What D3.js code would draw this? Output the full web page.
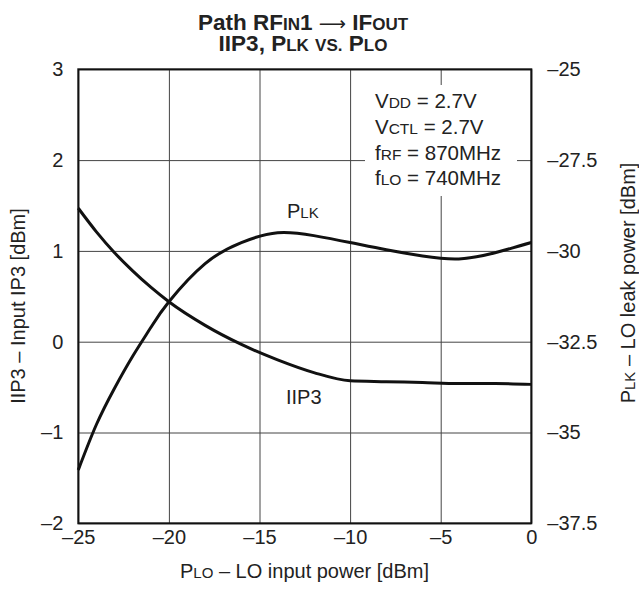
<!DOCTYPE html>
<html>
<head>
<meta charset="utf-8">
<script src="https://cdn.jsdelivr.net/npm/d3@7"></script>
<style>
  html, body { margin: 0; padding: 0; background: #fff; }
  svg { display: block; font-family: "Liberation Sans", Arial, sans-serif; }
</style>
</head>
<body>
<div id="chart"></div>
<script>
// ── Data ──────────────────────────────────────────────────────────────────
const ploValues = [-25, -24, -23, -22, -21, -20, -18, -16, -14, -12, -10, -8, -6, -4, -2, 0];
const iip3Values = [1.47, 1.21, 0.98, 0.78, 0.6, 0.44, 0.18, -0.03, -0.2, -0.34, -0.43, -0.44, -0.45, -0.46, -0.46, -0.47];
const plkValues = [-36.03, -34.78, -33.78, -32.9, -32.11, -31.4, -30.35, -29.77, -29.5, -29.58, -29.77, -29.97, -30.14, -30.22, -30.05, -29.77];

const xTicks = [-25, -20, -15, -10, -5, 0];
const leftTicks = [3, 2, 1, 0, -1, -2];
const rightTicks = [-25, -27.5, -30, -32.5, -35, -37.5];

// conditions box, each line split into [normal, small caps] runs
const conditionLines = [
  [['V', 0], ['DD', 1], [' = 2.7V', 0]],
  [['V', 0], ['CTL', 1], [' = 2.7V', 0]],
  [['f', 0], ['RF', 1], [' = 870MHz', 0]],
  [['f', 0], ['LO', 1], [' = 740MHz', 0]]
];

// ── Layout ─────────────────────────────────────────────────────────────────
const width = 639, height = 589;
const margin = { top: 69.3, left: 78.3 };
const W = 453, H = 454;
const FS = 20, SC = 15;   // normal / small-caps font sizes
const fmt = v => String(v).replace('-', '\u2013');

const svg = d3.select('#chart').append('svg')
  .attr('width', width).attr('height', height);

const g = svg.append('g').attr('transform', `translate(${margin.left},${margin.top})`);

const x = d3.scaleLinear().domain([-25, 0]).range([0, W]);
const yL = d3.scaleLinear().domain([-2, 3]).range([H, 0]);
const yR = d3.scaleLinear().domain([-37.5, -25]).range([H, 0]);

// helper: text made of normal + small-caps runs
function richText(sel, runs, fs = FS, sc = SC) {
  runs.forEach(([t, small]) => {
    sel.append('tspan').attr('font-size', small ? sc : fs).text(t);
  });
  return sel;
}

// Grid
g.append('g').attr('class', 'grid')
  .call(d3.axisLeft(yL).tickValues(leftTicks).tickSize(-W).tickFormat(''))
  .call(s => s.select('.domain').remove())
  .selectAll('line').attr('stroke', '#444').attr('stroke-width', 1);
g.append('g').attr('class', 'grid').attr('transform', `translate(0,${H})`)
  .call(d3.axisBottom(x).tickValues(xTicks).tickSize(-H).tickFormat(''))
  .call(s => s.select('.domain').remove())
  .selectAll('line').attr('stroke', '#444').attr('stroke-width', 1);

// Conditions box (white background breaks the grid)
g.append('rect')
  .attr('x', 365 - margin.left).attr('y', 85 - margin.top)
  .attr('width', 152).attr('height', 111)
  .attr('fill', '#fff');
conditionLines.forEach((runs, i) => {
  richText(g.append('text')
    .attr('x', 375 - margin.left)
    .attr('y', 108 - margin.top + i * 25.8)
    .attr('fill', '#222'), runs, 20.5, 15.5);
});

// Curves
const pts = ploValues.map((p, i) => ({ p, iip3: iip3Values[i], plk: plkValues[i] }));
const lineL = d3.line().x(d => x(d.p)).y(d => yL(d.iip3)).curve(d3.curveMonotoneX);
const lineR = d3.line().x(d => x(d.p)).y(d => yR(d.plk)).curve(d3.curveNatural);

g.append('path').datum(pts).attr('d', lineL)
  .attr('fill', 'none').attr('stroke', '#111').attr('stroke-width', 3);
g.append('path').datum(pts).attr('d', lineR)
  .attr('fill', 'none').attr('stroke', '#111').attr('stroke-width', 3);

// Curve labels
richText(g.append('text').attr('x', 287 - margin.left).attr('y', 218 - margin.top).attr('fill', '#222'),
  [['P', 0], ['LK', 1]]);
g.append('text').attr('x', 286 - margin.left).attr('y', 404 - margin.top)
  .attr('fill', '#222').attr('font-size', FS).text('IIP3');

// Frame
g.append('rect').attr('width', W).attr('height', H)
  .attr('fill', 'none').attr('stroke', '#111').attr('stroke-width', 2);

// Tick labels
g.append('g')
  .call(d3.axisLeft(yL).tickValues(leftTicks).tickSize(0).tickPadding(15).tickFormat(fmt))
  .call(s => s.select('.domain').remove())
  .selectAll('text').attr('font-size', FS).attr('font-family', null).attr('fill', '#222');
g.append('g').attr('transform', `translate(${W},0)`)
  .call(d3.axisRight(yR).tickValues(rightTicks).tickSize(0).tickPadding(16).tickFormat(fmt))
  .call(s => s.select('.domain').remove())
  .selectAll('text').attr('font-size', FS).attr('font-family', null).attr('fill', '#222');
g.append('g').attr('transform', `translate(0,${H})`)
  .call(d3.axisBottom(x).tickValues(xTicks).tickSize(0).tickPadding(7).tickFormat(fmt))
  .call(s => s.select('.domain').remove())
  .selectAll('text').attr('font-size', FS).attr('font-family', null).attr('fill', '#222');

// Axis titles
richText(svg.append('text').attr('x', 304.5).attr('y', 578).attr('text-anchor', 'middle').attr('fill', '#222'),
  [['P', 0], ['LO', 1], [' \u2013 LO input power [dBm]', 0]]);
svg.append('text').attr('transform', 'translate(25,306) rotate(-90)')
  .attr('text-anchor', 'middle').attr('font-size', FS).attr('fill', '#222')
  .text('IIP3 \u2013 Input IP3 [dBm]');
richText(svg.append('text').attr('transform', 'translate(635,283) rotate(-90)')
  .attr('text-anchor', 'middle').attr('fill', '#222'),
  [['P', 0], ['LK', 1], [' \u2013 LO leak power [dBm]', 0]]);

// Title
const TF = 22.5, TS = 17;
const title = svg.append('g').attr('font-weight', 'bold').attr('fill', '#222');
richText(title.append('text').attr('x', 303).attr('y', 30).attr('text-anchor', 'middle'),
  [['Path RF', 0], ['IN', 1], ['1 ', 0]], TF, TS)
  .call(t => t.append('tspan').attr('font-weight', 'normal').attr('font-family', 'DejaVu Sans')
    .attr('font-size', 19).text('\u27F6'))
  .call(t => richText(t, [[' IF', 0], ['OUT', 1]], TF, TS));
richText(title.append('text').attr('x', 303).attr('y', 51).attr('text-anchor', 'middle'),
  [['IIP3, P', 0], ['LK', 1], [' ', 0], ['VS.', 1], [' P', 0], ['LO', 1]], TF, TS);
</script>
</body>
</html>
